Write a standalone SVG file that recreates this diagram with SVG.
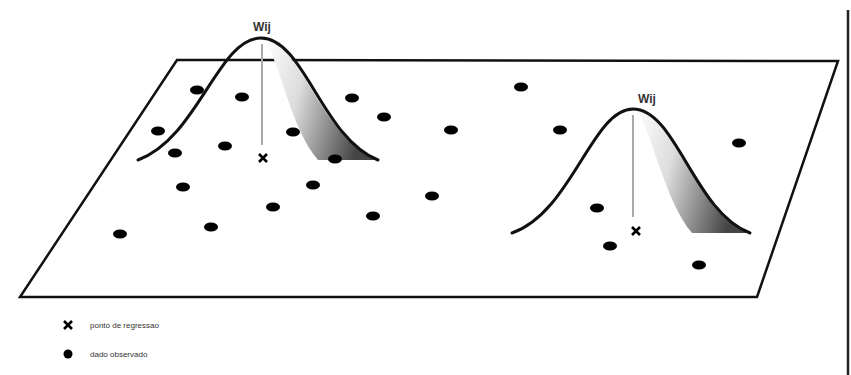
<svg xmlns="http://www.w3.org/2000/svg" width="851" height="375" viewBox="0 0 851 375">
<style>
.plane{fill:none;stroke:#111;stroke-width:2.5;stroke-linejoin:miter}
.curve{fill:none;stroke:#111;stroke-width:3;stroke-linecap:round}
.stem{stroke:#aaa;stroke-width:2}
.dot{fill:#000}
.x{fill:none;stroke:#000;stroke-width:2.6}
.lbl{font-family:"Liberation Sans",Arial,sans-serif;font-weight:bold;font-size:12px;fill:#333}
.leg{font-family:"Liberation Sans",Arial,sans-serif;font-size:8px;fill:#333}
</style>
<defs>
<linearGradient id="shade" x1="0" y1="0" x2="1" y2="0.3">
<stop offset="0" stop-color="#fff"/>
<stop offset="0.4" stop-color="#dcdcdc"/>
<stop offset="1" stop-color="#444"/>
</linearGradient>
<ellipse id="d" cx="0" cy="0" rx="7" ry="4.5"/>
<path id="xm" d="M-4,-4 L4,4 M4,-4 L-4,4"/>
</defs>
<rect width="851" height="375" fill="#fff"/>
<g id="plane"><path class="plane" d="M177,60 L838,61 L757,297 L20,297 Z"/></g>
<line x1="848" y1="10" x2="848" y2="375" stroke="#222" stroke-width="2.5"/>
<g id="kernel1">
<path fill="url(#shade)" d="M264,40 C300,40 322,140 378,160 L318,160 C290,128 280,60 264,40 Z"/>
<line class="stem" x1="262" y1="44" x2="262" y2="145"/>
<path class="curve" d="M138,160 C198,138 218,38 261,38 C304,38 322,138 378,160"/>
<use class="x" href="#xm" x="263" y="158"/>
<text class="lbl" x="262" y="31" text-anchor="middle">Wij</text>
</g>
<g id="kernel2">
<path fill="url(#shade)" d="M636,110 C672,110 694,212 750,233 L692,233 C664,200 652,130 636,110 Z"/>
<line class="stem" x1="633" y1="115" x2="633" y2="217"/>
<path class="curve" d="M512,233 C572,212 592,109 633,109 C676,109 694,212 750,233"/>
<use class="x" href="#xm" x="636" y="231"/>
<text class="lbl" x="647" y="103" text-anchor="middle">Wij</text>
</g>
<g id="dots" class="dot">
<use href="#d" x="197" y="90"/><use href="#d" x="242" y="97"/><use href="#d" x="158" y="131"/>
<use href="#d" x="175" y="153"/><use href="#d" x="225" y="146"/><use href="#d" x="293" y="132"/>
<use href="#d" x="335" y="159"/><use href="#d" x="183" y="187"/><use href="#d" x="313" y="185"/>
<use href="#d" x="273" y="207"/><use href="#d" x="211" y="227"/><use href="#d" x="120" y="234"/>
<use href="#d" x="352" y="98"/><use href="#d" x="384" y="117"/><use href="#d" x="451" y="130"/>
<use href="#d" x="373" y="216"/><use href="#d" x="432" y="196"/><use href="#d" x="521" y="87"/>
<use href="#d" x="560" y="130"/><use href="#d" x="597" y="208"/><use href="#d" x="610" y="246"/>
<use href="#d" x="699" y="265"/><use href="#d" x="739" y="143"/>
</g>
<g id="legend">
<use class="x" href="#xm" x="68" y="325"/>
<text class="leg" x="90" y="328">ponto de regressao</text>
<circle class="dot" cx="68" cy="354" r="4.5"/>
<text class="leg" x="90" y="357">dado observado</text>
</g>
</svg>
